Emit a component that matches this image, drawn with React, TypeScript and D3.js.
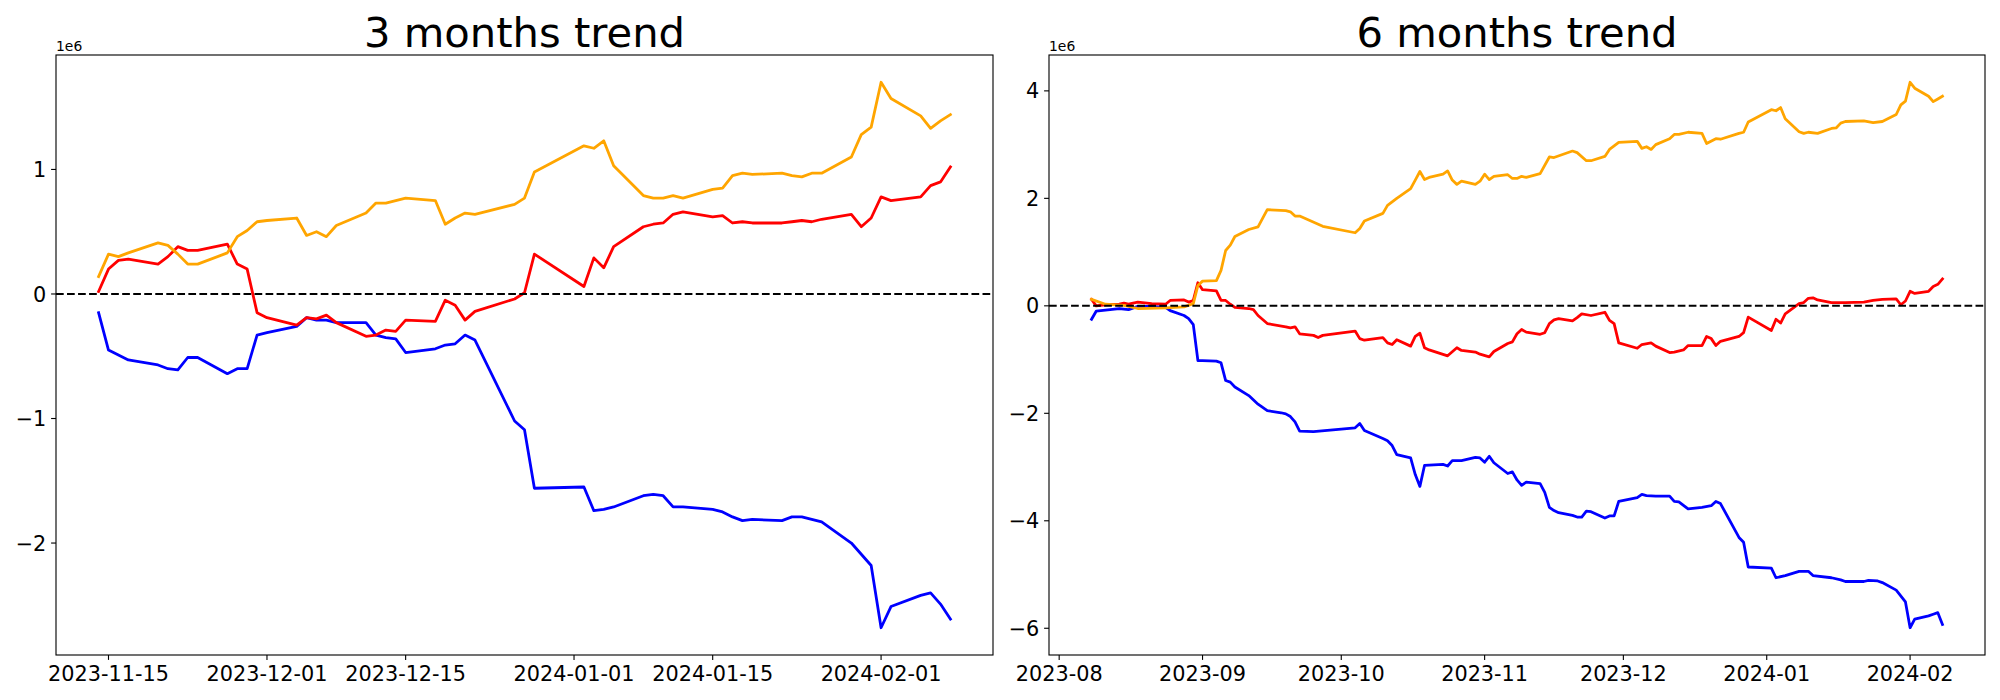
import * as d3 from 'd3'

// ---- 3 months (values in 1e6) ----
const dates3 = [
  '2023-11-14', '2023-11-15', '2023-11-16', '2023-11-17', '2023-11-20', '2023-11-21', '2023-11-22',
  '2023-11-23', '2023-11-24', '2023-11-27', '2023-11-28', '2023-11-29', '2023-11-30', '2023-12-01',
  '2023-12-04', '2023-12-05', '2023-12-06', '2023-12-07', '2023-12-08', '2023-12-11', '2023-12-12',
  '2023-12-13', '2023-12-14', '2023-12-15', '2023-12-18', '2023-12-19', '2023-12-20', '2023-12-21',
  '2023-12-22', '2023-12-26', '2023-12-27', '2023-12-28', '2024-01-02', '2024-01-03', '2024-01-04',
  '2024-01-05', '2024-01-08', '2024-01-09', '2024-01-10', '2024-01-11', '2024-01-12', '2024-01-15',
  '2024-01-16', '2024-01-17', '2024-01-18', '2024-01-19', '2024-01-22', '2024-01-23', '2024-01-24',
  '2024-01-25', '2024-01-26', '2024-01-29', '2024-01-30', '2024-01-31', '2024-02-01', '2024-02-02',
  '2024-02-05', '2024-02-06', '2024-02-07', '2024-02-08',
]
const orange3 = [
  0.14, 0.32, 0.30, 0.33, 0.41, 0.39, 0.32, 0.24, 0.24, 0.33, 0.46, 0.51, 0.58,
  0.59, 0.61, 0.47, 0.50, 0.46, 0.55, 0.65, 0.73, 0.73, 0.75, 0.77, 0.75, 0.56, 0.61, 0.65, 0.64, 0.72, 0.77, 0.98,
  1.19, 1.17, 1.23, 1.03, 0.79, 0.77, 0.77, 0.79, 0.77, 0.84, 0.85, 0.95, 0.97, 0.96, 0.97, 0.95, 0.94, 0.97, 0.97, 1.10, 1.28, 1.34,
  1.70, 1.57, 1.43, 1.33, 1.39, 1.44,
]
const red3 = [
  0.02, 0.20, 0.27, 0.28, 0.24, 0.30, 0.38, 0.35, 0.35, 0.40, 0.24, 0.20, -0.15,
  -0.19, -0.25, -0.19, -0.20, -0.17, -0.23, -0.34, -0.33, -0.29, -0.30, -0.21, -0.22, -0.05, -0.09, -0.21, -0.14, -0.04, 0.01, 0.32,
  0.06, 0.29, 0.21, 0.38, 0.54, 0.56, 0.57, 0.64, 0.66, 0.62, 0.63, 0.57, 0.58, 0.57, 0.57, 0.58, 0.59, 0.58, 0.60, 0.64, 0.54, 0.61,
  0.78, 0.75, 0.78, 0.87, 0.90, 1.02,
]
const blue3 = [
  -0.15, -0.45, -0.49, -0.53, -0.57, -0.60, -0.61, -0.51, -0.51, -0.64, -0.60, -0.60, -0.33,
  -0.31, -0.26, -0.19, -0.21, -0.21, -0.23, -0.23, -0.33, -0.35, -0.36, -0.47, -0.44, -0.41, -0.40, -0.33, -0.37, -1.02, -1.09, -1.56,
  -1.55, -1.74, -1.73, -1.71, -1.62, -1.61, -1.62, -1.71, -1.71, -1.73, -1.75, -1.79, -1.82, -1.81, -1.82, -1.79, -1.79, -1.81, -1.83, -2.00, -2.09, -2.18,
  -2.68, -2.51, -2.42, -2.40, -2.49, -2.61,
]

// ---- 6 months (date, value in 1e6) ----
const orange6: [string, number][] = [
  ['2023-08-08', 0.12], ['2023-08-11', 0.03], ['2023-08-15', 0.01], ['2023-08-18', -0.05], ['2023-08-24', -0.04],
  ['2023-08-28', -0.02], ['2023-08-30', 0.04], ['2023-08-31', 0.38], ['2023-09-01', 0.46], ['2023-09-04', 0.47],
  ['2023-09-05', 0.66], ['2023-09-06', 1.03], ['2023-09-07', 1.13], ['2023-09-08', 1.29], ['2023-09-11', 1.42],
  ['2023-09-13', 1.47], ['2023-09-15', 1.79], ['2023-09-19', 1.77], ['2023-09-20', 1.75], ['2023-09-21', 1.67],
  ['2023-09-22', 1.67], ['2023-09-27', 1.48], ['2023-10-04', 1.36], ['2023-10-05', 1.44], ['2023-10-06', 1.58],
  ['2023-10-10', 1.72], ['2023-10-11', 1.87], ['2023-10-13', 2.00], ['2023-10-16', 2.18], ['2023-10-17', 2.34],
  ['2023-10-18', 2.50], ['2023-10-19', 2.35], ['2023-10-20', 2.39], ['2023-10-23', 2.45], ['2023-10-24', 2.51],
  ['2023-10-25', 2.34], ['2023-10-26', 2.26], ['2023-10-27', 2.32], ['2023-10-30', 2.26], ['2023-10-31', 2.32],
  ['2023-11-01', 2.45], ['2023-11-02', 2.35], ['2023-11-03', 2.41], ['2023-11-06', 2.44], ['2023-11-07', 2.37],
  ['2023-11-08', 2.37], ['2023-11-09', 2.41], ['2023-11-10', 2.39], ['2023-11-13', 2.46], ['2023-11-15', 2.77],
  ['2023-11-16', 2.76], ['2023-11-20', 2.88], ['2023-11-21', 2.85], ['2023-11-23', 2.70], ['2023-11-24', 2.70],
  ['2023-11-27', 2.78], ['2023-11-28', 2.91], ['2023-11-30', 3.04], ['2023-12-04', 3.06], ['2023-12-05', 2.93],
  ['2023-12-06', 2.96], ['2023-12-07', 2.91], ['2023-12-08', 3.00], ['2023-12-11', 3.11], ['2023-12-12', 3.19],
  ['2023-12-13', 3.19], ['2023-12-15', 3.23], ['2023-12-18', 3.21], ['2023-12-19', 3.02], ['2023-12-21', 3.11],
  ['2023-12-22', 3.10], ['2023-12-26', 3.21], ['2023-12-27', 3.23], ['2023-12-28', 3.42], ['2024-01-02', 3.65],
  ['2024-01-03', 3.63], ['2024-01-04', 3.69], ['2024-01-05', 3.48], ['2024-01-08', 3.24], ['2024-01-09', 3.21],
  ['2024-01-10', 3.23], ['2024-01-12', 3.21], ['2024-01-15', 3.30], ['2024-01-16', 3.31], ['2024-01-17', 3.40],
  ['2024-01-18', 3.43], ['2024-01-22', 3.44], ['2024-01-24', 3.41], ['2024-01-26', 3.43], ['2024-01-29', 3.56],
  ['2024-01-30', 3.74], ['2024-01-31', 3.81], ['2024-02-01', 4.16], ['2024-02-02', 4.05], ['2024-02-05', 3.90],
  ['2024-02-06', 3.80], ['2024-02-07', 3.85], ['2024-02-08', 3.90],
]
const red6: [string, number][] = [
  ['2023-08-08', 0.12], ['2023-08-09', 0.00], ['2023-08-11', 0.02], ['2023-08-14', 0.03], ['2023-08-15', 0.05],
  ['2023-08-16', 0.03], ['2023-08-18', 0.07], ['2023-08-21', 0.04], ['2023-08-24', 0.03], ['2023-08-25', 0.10],
  ['2023-08-28', 0.11], ['2023-08-29', 0.07], ['2023-08-30', 0.10], ['2023-08-31', 0.43], ['2023-09-01', 0.30],
  ['2023-09-04', 0.28], ['2023-09-05', 0.10], ['2023-09-06', 0.10], ['2023-09-07', 0.03], ['2023-09-08', -0.03],
  ['2023-09-11', -0.05], ['2023-09-12', -0.07], ['2023-09-13', -0.18], ['2023-09-15', -0.33], ['2023-09-19', -0.39],
  ['2023-09-20', -0.41], ['2023-09-21', -0.39], ['2023-09-22', -0.52], ['2023-09-25', -0.55], ['2023-09-26', -0.59],
  ['2023-09-27', -0.55], ['2023-10-04', -0.47], ['2023-10-05', -0.61], ['2023-10-06', -0.64], ['2023-10-10', -0.59],
  ['2023-10-11', -0.69], ['2023-10-12', -0.72], ['2023-10-13', -0.63], ['2023-10-16', -0.75], ['2023-10-17', -0.57],
  ['2023-10-18', -0.51], ['2023-10-19', -0.78], ['2023-10-20', -0.82], ['2023-10-24', -0.93], ['2023-10-26', -0.78],
  ['2023-10-27', -0.83], ['2023-10-30', -0.86], ['2023-10-31', -0.90], ['2023-11-02', -0.95], ['2023-11-03', -0.85],
  ['2023-11-06', -0.70], ['2023-11-07', -0.67], ['2023-11-08', -0.52], ['2023-11-09', -0.44], ['2023-11-10', -0.49],
  ['2023-11-13', -0.53], ['2023-11-14', -0.50], ['2023-11-15', -0.33], ['2023-11-16', -0.26], ['2023-11-17', -0.24],
  ['2023-11-20', -0.28], ['2023-11-21', -0.22], ['2023-11-22', -0.15], ['2023-11-24', -0.18], ['2023-11-27', -0.12],
  ['2023-11-28', -0.27], ['2023-11-29', -0.33], ['2023-11-30', -0.69], ['2023-12-04', -0.79], ['2023-12-05', -0.72],
  ['2023-12-07', -0.69], ['2023-12-08', -0.75], ['2023-12-11', -0.87], ['2023-12-12', -0.86], ['2023-12-14', -0.82],
  ['2023-12-15', -0.74], ['2023-12-18', -0.74], ['2023-12-19', -0.57], ['2023-12-20', -0.61], ['2023-12-21', -0.74],
  ['2023-12-22', -0.66], ['2023-12-26', -0.57], ['2023-12-27', -0.50], ['2023-12-28', -0.21], ['2024-01-02', -0.46],
  ['2024-01-03', -0.25], ['2024-01-04', -0.32], ['2024-01-05', -0.15], ['2024-01-08', 0.04], ['2024-01-09', 0.06],
  ['2024-01-10', 0.14], ['2024-01-11', 0.15], ['2024-01-12', 0.11], ['2024-01-15', 0.06], ['2024-01-18', 0.06],
  ['2024-01-22', 0.07], ['2024-01-24', 0.10], ['2024-01-26', 0.12], ['2024-01-29', 0.13], ['2024-01-30', 0.02],
  ['2024-01-31', 0.09], ['2024-02-01', 0.27], ['2024-02-02', 0.23], ['2024-02-05', 0.27], ['2024-02-06', 0.36],
  ['2024-02-07', 0.40], ['2024-02-08', 0.50],
]
const blue6: [string, number][] = [
  ['2023-08-08', -0.25], ['2023-08-09', -0.10], ['2023-08-10', -0.09], ['2023-08-14', -0.05], ['2023-08-16', -0.07],
  ['2023-08-18', -0.01], ['2023-08-21', -0.01], ['2023-08-24', -0.03], ['2023-08-25', -0.09], ['2023-08-28', -0.18],
  ['2023-08-29', -0.24], ['2023-08-30', -0.35], ['2023-08-31', -1.02], ['2023-09-01', -1.02], ['2023-09-04', -1.03],
  ['2023-09-05', -1.06], ['2023-09-06', -1.39], ['2023-09-07', -1.42], ['2023-09-08', -1.51], ['2023-09-11', -1.67],
  ['2023-09-13', -1.83], ['2023-09-15', -1.95], ['2023-09-18', -1.99], ['2023-09-19', -2.01], ['2023-09-20', -2.06],
  ['2023-09-21', -2.16], ['2023-09-22', -2.33], ['2023-09-25', -2.34], ['2023-10-04', -2.27], ['2023-10-05', -2.19],
  ['2023-10-06', -2.32], ['2023-10-10', -2.47], ['2023-10-11', -2.51], ['2023-10-12', -2.60], ['2023-10-13', -2.77],
  ['2023-10-16', -2.83], ['2023-10-17', -3.14], ['2023-10-18', -3.36], ['2023-10-19', -2.97], ['2023-10-23', -2.95],
  ['2023-10-24', -2.98], ['2023-10-25', -2.88], ['2023-10-27', -2.88], ['2023-10-30', -2.82], ['2023-10-31', -2.83],
  ['2023-11-01', -2.91], ['2023-11-02', -2.80], ['2023-11-03', -2.92], ['2023-11-06', -3.12], ['2023-11-07', -3.09],
  ['2023-11-08', -3.24], ['2023-11-09', -3.34], ['2023-11-10', -3.28], ['2023-11-13', -3.31], ['2023-11-14', -3.47],
  ['2023-11-15', -3.75], ['2023-11-16', -3.81], ['2023-11-17', -3.85], ['2023-11-20', -3.90], ['2023-11-21', -3.93],
  ['2023-11-22', -3.93], ['2023-11-23', -3.82], ['2023-11-24', -3.83], ['2023-11-27', -3.95], ['2023-11-28', -3.91],
  ['2023-11-29', -3.91], ['2023-11-30', -3.64], ['2023-12-04', -3.57], ['2023-12-05', -3.51], ['2023-12-06', -3.53],
  ['2023-12-08', -3.54], ['2023-12-11', -3.54], ['2023-12-12', -3.64], ['2023-12-13', -3.65], ['2023-12-15', -3.78],
  ['2023-12-18', -3.75], ['2023-12-20', -3.72], ['2023-12-21', -3.64], ['2023-12-22', -3.68], ['2023-12-26', -4.31],
  ['2023-12-27', -4.40], ['2023-12-28', -4.86], ['2024-01-02', -4.88], ['2024-01-03', -5.06], ['2024-01-05', -5.02],
  ['2024-01-08', -4.94], ['2024-01-10', -4.94], ['2024-01-11', -5.02], ['2024-01-15', -5.06], ['2024-01-17', -5.10],
  ['2024-01-18', -5.13], ['2024-01-22', -5.13], ['2024-01-23', -5.11], ['2024-01-25', -5.12], ['2024-01-26', -5.15],
  ['2024-01-29', -5.29], ['2024-01-31', -5.51], ['2024-02-01', -5.99], ['2024-02-02', -5.83], ['2024-02-05', -5.77],
  ['2024-02-06', -5.74], ['2024-02-07', -5.71], ['2024-02-08', -5.93],
]

// ---- ticks ----
const xTicks3 = ['2023-11-15', '2023-12-01', '2023-12-15', '2024-01-01', '2024-01-15', '2024-02-01']
const xTickLabels3 = ['2023-11-15', '2023-12-01', '2023-12-15', '2024-01-01', '2024-01-15', '2024-02-01']
const xTicks6 = ['2023-08-01', '2023-09-01', '2023-10-01', '2023-11-01', '2023-12-01', '2024-01-01', '2024-02-01']
const xTickLabels6 = ['2023-08', '2023-09', '2023-10', '2023-11', '2023-12', '2024-01', '2024-02']
const yTicks3 = [-2, -1, 0, 1]
const yTicks6 = [-6, -4, -2, 0, 2, 4]

const parse = d3.timeParse('%Y-%m-%d')

interface Point {
  date: Date
  value: number
}

interface Series {
  color: string
  points: Point[]
}

const fromColumns = (dates: string[], values: number[]): Point[] =>
  dates.map((d, i) => ({ date: parse(d)!, value: values[i] }))

const fromPairs = (pairs: [string, number][]): Point[] =>
  pairs.map(([d, v]) => ({ date: parse(d)!, value: v }))

const FONT = 'DejaVu Sans, Verdana, sans-serif'
const TOP = 55
const BOTTOM = 655

interface PanelProps {
  title: string
  left: number
  right: number
  series: Series[]
  xTicks: string[]
  xTickLabels: string[]
  yTicks: number[]
}

function TrendPanel({ title, left, right, series, xTicks, xTickLabels, yTicks }: PanelProps) {
  const allPoints = series.flatMap(s => s.points)

  // matplotlib style autoscale: 5% margin on both axes
  const [t0, t1] = d3.extent(allPoints, p => p.date) as [Date, Date]
  const tPad = (t1.getTime() - t0.getTime()) * 0.05
  const x = d3.scaleTime()
    .domain([new Date(t0.getTime() - tPad), new Date(t1.getTime() + tPad)])
    .range([left, right])

  const [v0, v1] = d3.extent(allPoints, p => p.value) as [number, number]
  const vPad = (v1 - v0) * 0.05
  const y = d3.scaleLinear().domain([v0 - vPad, v1 + vPad]).range([BOTTOM, TOP])

  const line = d3.line<Point>()
    .x(d => x(d.date))
    .y(d => y(d.value))

  const fmt = (v: number) => (v < 0 ? '\u2212' + Math.abs(v) : String(v))

  return (
    <g fontFamily={FONT}>
      <text x={(left + right) / 2} y={46.5} fontSize={41.7} textAnchor="middle" fill="#000">
        {title}
      </text>
      <text x={left} y={50.5} fontSize={13.9} fill="#000">1e6</text>

      {series.map(s => (
        <path
          key={s.color}
          d={line(s.points) ?? ''}
          fill="none"
          stroke={s.color}
          strokeWidth={2.78}
          strokeLinejoin="round"
          strokeLinecap="square"
        />
      ))}

      <line
        x1={left}
        x2={right}
        y1={y(0)}
        y2={y(0)}
        stroke="#000"
        strokeWidth={2.08}
        strokeDasharray="7.7 3.33"
      />

      {/* x axis ticks */}
      {xTicks.map((t, i) => {
        const px = x(parse(t)!)
        return (
          <g key={t}>
            <line x1={px} x2={px} y1={BOTTOM} y2={BOTTOM + 4.9} stroke="#000" strokeWidth={1.11} />
            <text x={px} y={681} fontSize={20.8} textAnchor="middle" fill="#000">
              {xTickLabels[i]}
            </text>
          </g>
        )
      })}

      {/* y axis ticks */}
      {yTicks.map(v => {
        const py = y(v)
        return (
          <g key={v}>
            <line x1={left - 4.9} x2={left} y1={py} y2={py} stroke="#000" strokeWidth={1.11} />
            <text x={left - 9.7} y={py + 7.6} fontSize={20.8} textAnchor="end" fill="#000">
              {fmt(v)}
            </text>
          </g>
        )
      })}

      <rect
        x={left}
        y={TOP}
        width={right - left}
        height={BOTTOM - TOP}
        fill="none"
        stroke="#000"
        strokeWidth={1.11}
      />
    </g>
  )
}

export default function App() {
  const series3: Series[] = [
    { color: '#0000ff', points: fromColumns(dates3, blue3) },
    { color: '#ff0000', points: fromColumns(dates3, red3) },
    { color: '#ffa500', points: fromColumns(dates3, orange3) },
  ]
  const series6: Series[] = [
    { color: '#0000ff', points: fromPairs(blue6) },
    { color: '#ff0000', points: fromPairs(red6) },
    { color: '#ffa500', points: fromPairs(orange6) },
  ]

  return (
    <div style={{ position: 'absolute', left: 0, top: 0 }}>
      <svg width={2000} height={700} style={{ display: 'block', background: '#fff' }}>
        <TrendPanel
          title="3 months trend"
          left={56}
          right={993}
          series={series3}
          xTicks={xTicks3}
          xTickLabels={xTickLabels3}
          yTicks={yTicks3}
        />
        <TrendPanel
          title="6 months trend"
          left={1049}
          right={1985}
          series={series6}
          xTicks={xTicks6}
          xTickLabels={xTickLabels6}
          yTicks={yTicks6}
        />
      </svg>
    </div>
  )
}
